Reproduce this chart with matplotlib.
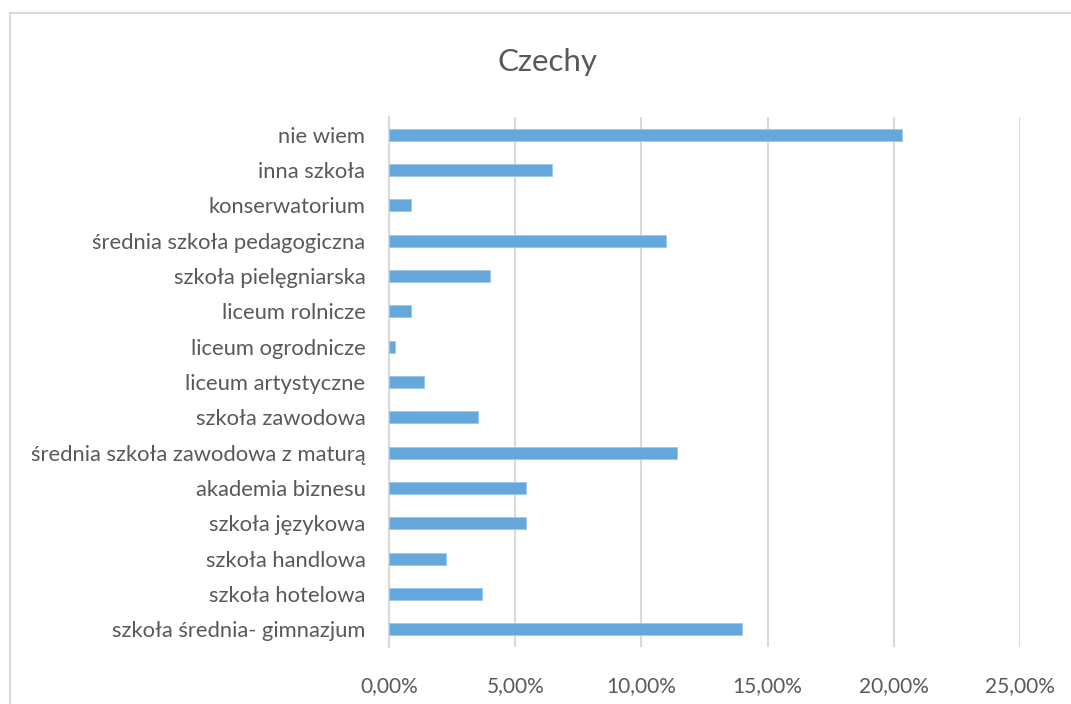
import matplotlib
matplotlib.use('Agg')
import matplotlib.pyplot as plt
from matplotlib.lines import Line2D
from matplotlib.ticker import FuncFormatter

# categories, bottom to top as drawn
categories = ['szkoła średnia- gimnazjum', 'szkoła hotelowa', 'szkoła handlowa',
              'szkoła językowa', 'akademia biznesu', 'średnia szkoła zawodowa z maturą',
              'szkoła zawodowa', 'liceum artystyczne', 'liceum ogrodnicze',
              'liceum rolnicze', 'szkoła pielęgniarska', 'średnia szkoła pedagogiczna',
              'konserwatorium', 'inna szkoła', 'nie wiem']
values = [13.97, 3.69, 2.27, 5.43, 5.43, 11.41, 3.54, 1.40, 0.24,
          0.86, 4.00, 10.96, 0.87, 6.44, 20.33]
xticks = [0, 5, 10, 15, 20, 25]

plt.rcParams['font.family'] = ['Lato', 'DejaVu Sans']
grey = '#595959'

fig = plt.figure(figsize=(10.71, 7.04), dpi=100)
ax = fig.add_axes([0.3632, 0.081, 0.5892, 0.753])

ax.barh(range(len(categories)), values, height=0.34, color='#65A8DC',
        edgecolor='#9CC7EA', linewidth=0.6, zorder=3)

ax.set_xlim(0, 25)
ax.set_ylim(-0.5, len(categories) - 0.5)
ax.set_xticks(xticks)
ax.xaxis.set_major_formatter(FuncFormatter(lambda v, p: f'{v:.2f}%'.replace('.', ',')))
ax.set_yticks(range(len(categories)))
ax.set_yticklabels(categories)
ax.tick_params(axis='y', length=0, pad=17, labelsize=15.8, labelcolor=grey)
ax.tick_params(axis='x', length=0, pad=21, labelsize=15, labelcolor=grey)

ax.grid(axis='x', color='#D9D9D9', linewidth=1.5, zorder=0)
for s in ['top', 'right', 'bottom']:
    ax.spines[s].set_visible(False)
ax.spines['left'].set_color('#D9D9D9')
ax.spines['left'].set_linewidth(1.5)

fig.text(0.511, 0.912, 'Czechy', ha='center', va='center', fontsize=22.5, color=grey)

# chart area border
fig.add_artist(Line2D([10 / 1071, 10 / 1071], [0, 1 - 13 / 704], color='#D9D9D9', linewidth=1.5))
fig.add_artist(Line2D([10 / 1071, 1], [1 - 13 / 704, 1 - 13 / 704], color='#D9D9D9', linewidth=1.5))

fig.savefig('out.png', dpi=100, facecolor='white')
